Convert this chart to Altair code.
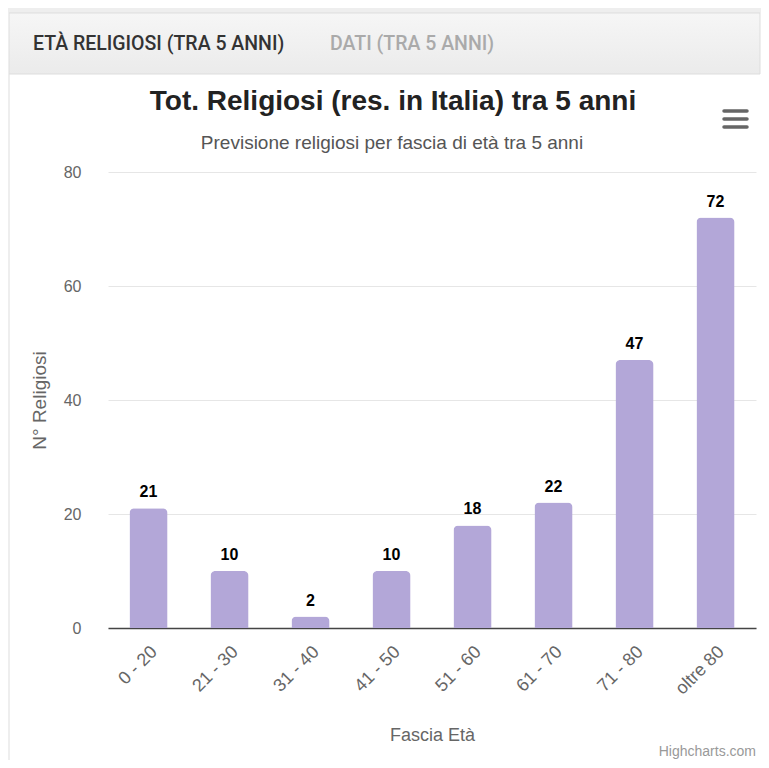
import altair as alt
import pandas as pd

categories = ["0 - 20", "21 - 30", "31 - 40", "41 - 50", "51 - 60", "61 - 70", "71 - 80", "oltre 80"]
values = [21, 10, 2, 10, 18, 22, 47, 72]
y_ticks = [0, 20, 40, 60, 80]

title_text = "Tot. Religiosi (res. in Italia) tra 5 anni"
subtitle_text = "Previsione religiosi per fascia di età tra 5 anni"
tab1 = "ETÀ RELIGIOSI (TRA 5 ANNI)"
tab2 = "DATI (TRA 5 ANNI)"

df = pd.DataFrame({"fascia": categories, "n": values})
one = pd.DataFrame({"k": [0]})

FONT = "Liberation Sans"
W, H = 648, 456

xenc = alt.X("fascia:N", sort=categories,
             scale=alt.Scale(paddingInner=0.53, paddingOuter=0.265),
             axis=alt.Axis(title="Fascia Età", labelAngle=-45, labelAlign="right",
                           labelBaseline="middle", labelPadding=21, labelOffset=6, ticks=False,
                           domainColor="#444", domainWidth=1.5,
                           labelFontSize=18, labelColor="#666", labelFont=FONT,
                           titleFontSize=18, titleColor="#666", titleFont=FONT,
                           titleFontWeight="normal", titleY=107, titleBaseline="middle"))
yenc = alt.Y("n:Q", scale=alt.Scale(domain=[0, 80], nice=False),
             axis=alt.Axis(title="N° Religiosi", values=y_ticks, ticks=False, domain=False,
                           gridColor="#e6e6e6", labelPadding=27,
                           labelFontSize=16, labelColor="#666", labelFont=FONT,
                           titleFontSize=19, titleColor="#666", titleFont=FONT,
                           titleFontWeight="normal", titleX=-69, titleY=228,
                           titleAngle=-90, titleAlign="center", titleBaseline="middle"))

bars = alt.Chart(df).mark_bar(color="#b3a7d8", cornerRadiusTopLeft=5,
                              cornerRadiusTopRight=5).encode(x=xenc, y=yenc)
labels = alt.Chart(df).mark_text(baseline="bottom", dy=-8, fontSize=16, fontWeight="bold",
                                 color="#000", font=FONT).encode(
    x=alt.X("fascia:N", sort=categories), y="n:Q", text="n:Q")

tabbar = alt.Chart(one).mark_rect(
    fill=alt.LinearGradient(gradient="linear", x1=0, x2=0, y1=0, y2=1,
                            stops=[alt.GradientStop(color="#f6f6f6", offset=0),
                                   alt.GradientStop(color="#ebebeb", offset=1)]),
    stroke="#dddddd", strokeWidth=1).encode(
    x=alt.value(-99), x2=alt.value(652), y=alt.value(-159), y2=alt.value(-98))
topstrip = alt.Chart(one).mark_rect(fill="#eeeeee").encode(
    x=alt.value(-100), x2=alt.value(653), y=alt.value(-164), y2=alt.value(-159))
leftborder = alt.Chart(one).mark_rule(color="#dddddd").encode(
    x=alt.value(-99), y=alt.value(-98), y2=alt.value(588))

t1 = alt.Chart(one).mark_text(text=tab1, align="left", baseline="middle", fontSize=19.5,
                              fontWeight=500, font="Roboto", color="#333").encode(
    x=alt.value(-75), y=alt.value(-128))
t2 = alt.Chart(one).mark_text(text=tab2, align="left", baseline="middle", fontSize=19.5,
                              fontWeight=500, font="Roboto", color="#aaaaaa").encode(
    x=alt.value(222), y=alt.value(-128))

title = alt.Chart(one).mark_text(text=title_text, align="center", baseline="alphabetic",
                                 fontSize=28, fontWeight="bold", font=FONT, color="#222").encode(
    x=alt.value(285), y=alt.value(-62))
subtitle = alt.Chart(one).mark_text(text=subtitle_text, align="center", baseline="alphabetic",
                                    fontSize=19, font=FONT, color="#555").encode(
    x=alt.value(284), y=alt.value(-23))
credit = alt.Chart(one).mark_text(text="Highcharts.com", align="right", baseline="alphabetic",
                                  fontSize=14, font=FONT, color="#999").encode(
    x=alt.value(648), y=alt.value(584))

menu = [alt.Chart(one).mark_rule(color="#666", strokeWidth=3.5, strokeCap="round").encode(
    x=alt.value(616), x2=alt.value(639), y=alt.value(yy)) for yy in (-61, -53, -45)]

chart = alt.layer(topstrip, tabbar, leftborder, t1, t2, title, subtitle, credit, *menu,
                  bars, labels).properties(
    width=W, height=H,
    autosize=alt.AutoSizeParams(type="none"),
    padding={"left": 100, "top": 164, "right": 5, "bottom": 132},
    background="white",
).configure_view(stroke=None)

chart.save("out.html", embed_options={"renderer": "svg", "actions": False})
